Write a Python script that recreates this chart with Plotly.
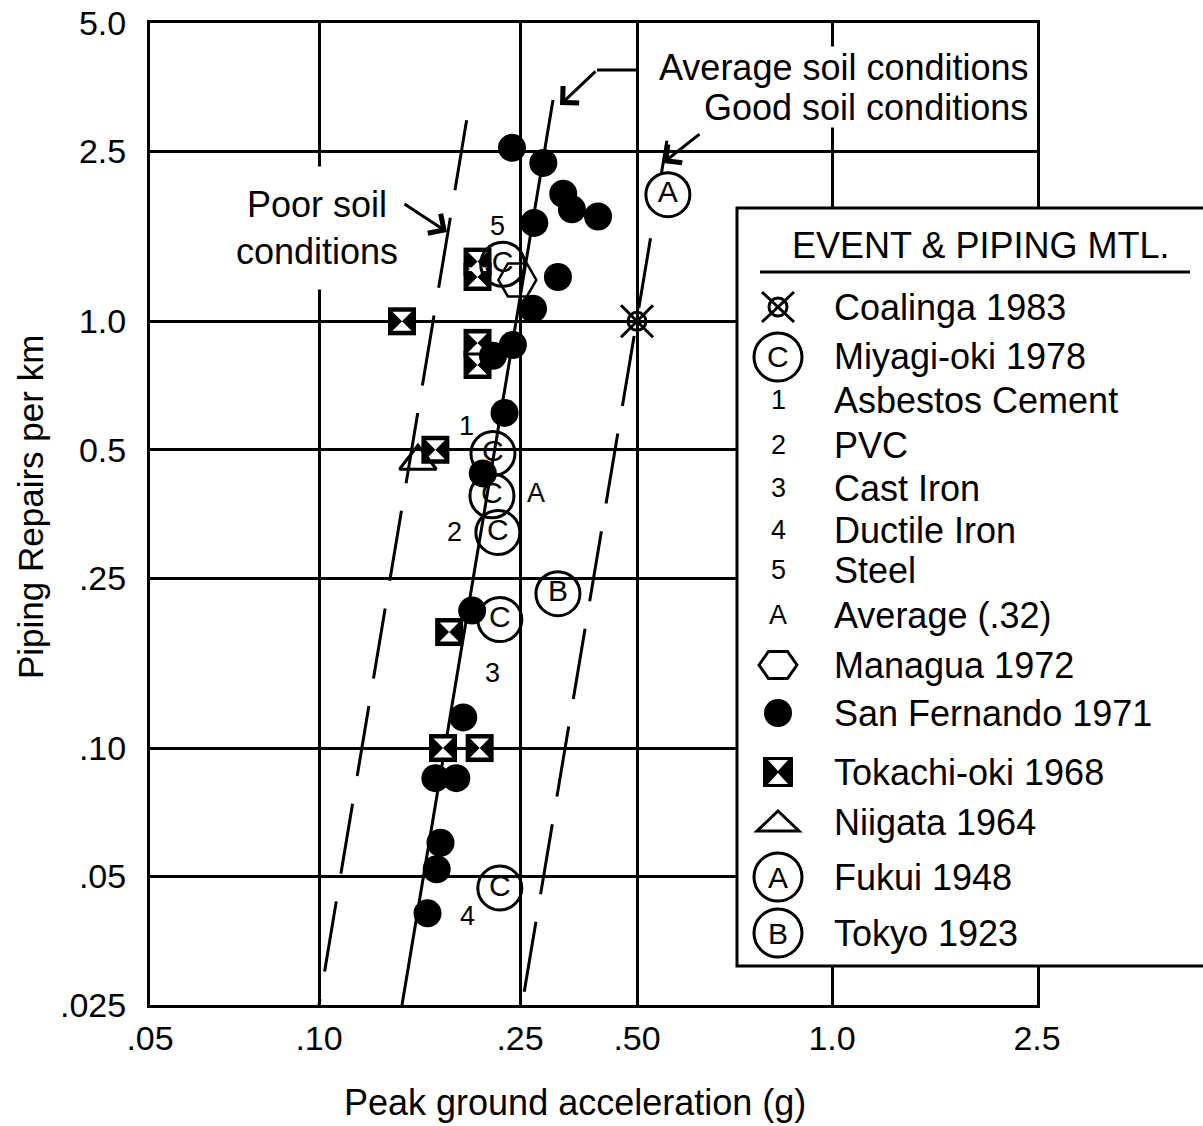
import numpy as np
import plotly.graph_objects as go

# ---------------- axis scales (as printed on the reference) ----------------
X_TICK_VALUES = [0.05, 0.10, 0.25, 0.50, 1.0, 2.5]
X_TICK_LABELS = [".05", ".10", ".25", ".50", "1.0", "2.5"]
# the printed PGA axis is not evenly logarithmic: spacing of its tick marks
X_AXIS_STOPS = [0, 169, 370, 487, 682, 887]
Y_TICK_VALUES = [5.0, 2.5, 1.0, 0.5, 0.25, 0.10, 0.05, 0.025]
Y_TICK_LABELS = ["5.0", "2.5", "1.0", "0.5", ".25", ".10", ".05", ".025"]

# ---------------- data (peak ground acceleration g, repairs per km) ----------------
SAN_FERNANDO_PGA = [0.241, 0.287, 0.323, 0.340, 0.397, 0.272, 0.313, 0.270, 0.242, 0.221,
                    0.233, 0.211, 0.201, 0.193, 0.170, 0.187, 0.174, 0.171, 0.164]
SAN_FERNANDO_RATE = [2.55, 2.35, 1.99, 1.83, 1.76, 1.70, 1.27, 1.07, 0.88, 0.83,
                     0.61, 0.44, 0.21, 0.118, 0.085, 0.085, 0.060, 0.052, 0.041]

MIYAGI_PGA = [0.231, 0.221, 0.220, 0.226, 0.228, 0.228]
MIYAGI_RATE = [1.36, 0.49, 0.39, 0.32, 0.20, 0.047]
MIYAGI_MTL = ["5", "1", "A", "2", "3", "4"]

TOKACHI_PGA = [0.206, 0.206, 0.146, 0.206, 0.206, 0.170, 0.181, 0.176, 0.208]
TOKACHI_RATE = [1.38, 1.27, 1.0, 0.89, 0.79, 0.50, 0.187, 0.10, 0.10]

MANAGUA_PGA = [0.247]
MANAGUA_RATE = [1.25]
NIIGATA_PGA = [0.157]
NIIGATA_RATE = [0.47]
FUKUI_PGA = [0.558]
FUKUI_RATE = [1.98]
TOKYO_PGA = [0.313]
TOKYO_RATE = [0.23]
COALINGA_PGA = [0.50]
COALINGA_RATE = [1.0]

POOR_PGA = [0.196, 0.100]
POOR_RATE = [2.96, 0.025]
AVERAGE_PGA = [0.304, 0.146]
AVERAGE_RATE = [3.30, 0.025]
GOOD_PGA = [0.556, 0.253]
GOOD_RATE = [2.65, 0.025]

LEGEND_TITLE = "EVENT & PIPING MTL."
LEGEND_LABELS = ["Coalinga 1983", "Miyagi-oki 1978", "Asbestos Cement", "PVC", "Cast Iron",
                 "Ductile Iron", "Steel", "Average (.32)", "Managua 1972", "San Fernando 1971",
                 "Tokachi-oki 1968", "Niigata 1964", "Fukui 1948", "Tokyo 1923"]
LEGEND_SYMBOLS = ["coalinga", "circ:C", "txt:1", "txt:2", "txt:3", "txt:4", "txt:5", "txt:A",
                  "hex", "dot", "tokachi", "tri", "circ:A", "circ:B"]

# ---------------- layout geometry (page pixels) ----------------
W, H = 1203, 1126
L, R, T, B = 150, 1037, 23, 1005
LEGEND_ROWS = [307, 357, 400, 445, 488, 530, 570, 615, 665, 713, 772, 822, 877, 933]
LABEL_SHIFTS = [(-5, 38), (-26, 28), (44, 3), (-43, 0), (-7, -53), (-32, -28)]
FONT = "Liberation Sans, Arial, Helvetica, sans-serif"
DASH = "71px,28px"


def xs(g):
    return np.interp(np.log10(np.asarray(g, dtype=float)), np.log10(X_TICK_VALUES), X_AXIS_STOPS)


def px(x):
    return (x - L) / (R - L)


def py(y):
    return (B - y) / (B - T)


def note(x, y, text, size=36, xanchor="center", yanchor="middle", **kw):
    d = dict(x=px(x), y=py(y), xref="paper", yref="paper", text=text, showarrow=False,
             xanchor=xanchor, yanchor=yanchor, font=dict(family=FONT, size=size, color="black"))
    d.update(kw)
    return d


fig = go.Figure()

# soil condition lines
fig.add_trace(go.Scatter(x=xs(POOR_PGA), y=POOR_RATE, mode="lines",
                         line=dict(color="black", width=3, dash=DASH)))
fig.add_trace(go.Scatter(x=xs(AVERAGE_PGA), y=AVERAGE_RATE, mode="lines",
                         line=dict(color="black", width=3)))
fig.add_trace(go.Scatter(x=xs(GOOD_PGA), y=GOOD_RATE, mode="lines",
                         line=dict(color="black", width=3, dash=DASH)))

# Tokachi-oki 1968: black square with white hourglass
fig.add_trace(go.Scatter(x=xs(TOKACHI_PGA), y=TOKACHI_RATE, mode="markers",
                         marker=dict(symbol="square", size=28, color="black", line=dict(width=0))))
fig.add_trace(go.Scatter(x=xs(TOKACHI_PGA), y=TOKACHI_RATE, mode="markers",
                         marker=dict(symbol="hourglass", size=19, color="white", line=dict(width=0))))

# San Fernando 1971
fig.add_trace(go.Scatter(x=xs(SAN_FERNANDO_PGA), y=SAN_FERNANDO_RATE, mode="markers",
                         marker=dict(symbol="circle", size=28, color="black", line=dict(width=0))))

# Niigata 1964
fig.add_trace(go.Scatter(x=xs(NIIGATA_PGA), y=NIIGATA_RATE, mode="markers",
                         marker=dict(symbol="triangle-up-open", size=32, color="black",
                                     line=dict(color="black", width=3))))

# Managua 1972
fig.add_trace(go.Scatter(x=xs(MANAGUA_PGA), y=MANAGUA_RATE, mode="markers",
                         marker=dict(symbol="hexagon2-open", size=38, color="black",
                                     line=dict(color="black", width=2.5))))

# Miyagi-oki 1978
fig.add_trace(go.Scatter(x=xs(MIYAGI_PGA), y=MIYAGI_RATE, mode="markers+text",
                         text=["C"] * len(MIYAGI_PGA), textposition="middle center",
                         textfont=dict(family=FONT, size=30, color="black"),
                         marker=dict(symbol="circle-open", size=44, color="black",
                                     line=dict(color="black", width=3))))

# Tokyo 1923
fig.add_trace(go.Scatter(x=xs(TOKYO_PGA), y=TOKYO_RATE, mode="markers+text",
                         text=["B"], textposition="middle center",
                         textfont=dict(family=FONT, size=30, color="black"),
                         marker=dict(symbol="circle-open", size=44, color="black",
                                     line=dict(color="black", width=3))))

# Fukui 1948
fig.add_trace(go.Scatter(x=xs(FUKUI_PGA), y=FUKUI_RATE, mode="markers+text",
                         text=["A"], textposition="middle center",
                         textfont=dict(family=FONT, size=30, color="black"),
                         marker=dict(symbol="circle", size=44, color="white",
                                     line=dict(color="black", width=3))))

# Coalinga 1983
fig.add_trace(go.Scatter(x=xs(COALINGA_PGA), y=COALINGA_RATE, mode="markers",
                         marker=dict(symbol="circle-open", size=18, color="black",
                                     line=dict(color="black", width=3))))
fig.add_trace(go.Scatter(x=xs(COALINGA_PGA), y=COALINGA_RATE, mode="markers",
                         marker=dict(symbol="x-thin-open", size=32, color="black",
                                     line=dict(color="black", width=3))))

annotations = []
shapes = []

# piping material labels beside the Miyagi-oki points
for g, r, lab, (dx, dy) in zip(MIYAGI_PGA, MIYAGI_RATE, MIYAGI_MTL, LABEL_SHIFTS):
    annotations.append(dict(x=float(xs(g)), y=float(np.log10(r)), xref="x", yref="y",
                            text=lab, showarrow=False, xshift=dx, yshift=dy,
                            xanchor="center", yanchor="middle",
                            font=dict(family=FONT, size=27, color="black")))

# soil-condition captions and arrows
annotations.append(note(317, 228, "Poor soil<br>conditions", align="center", bgcolor="white",
                        height=122, valign="middle", borderpad=0))
annotations.append(note(1030, 46, "Average soil conditions", xanchor="right", yanchor="top",
                        bgcolor="white", height=80, valign="top", borderpad=0))
annotations.append(note(1030, 107, "Good soil conditions", xanchor="right"))
arrow_style = dict(showarrow=True, arrowhead=4, arrowsize=1.5, arrowwidth=3, arrowcolor="black",
                   text="", xref="paper", yref="paper", axref="pixel", ayref="pixel", standoff=0)
annotations.append(dict(x=px(447), y=py(232), ax=-44, ay=-29, **arrow_style))
annotations.append(dict(x=px(560), y=py(105), ax=37, ay=-35, **arrow_style))
annotations.append(dict(x=px(663), y=py(163), ax=38, ay=-30, **arrow_style))
shapes.append(dict(type="line", xref="paper", yref="paper", x0=px(597), x1=px(637),
                   y0=py(70), y1=py(70), line=dict(color="black", width=3), layer="above"))

# axis titles
annotations.append(note(575, 1102, "Peak ground acceleration (g)"))
annotations.append(note(30, 507, "Piping Repairs per km", size=35, textangle=-90))

# ---------------- legend box ----------------
shapes.append(dict(type="rect", xref="paper", yref="paper", x0=px(737), x1=px(1300),
                   y0=py(966), y1=py(208), fillcolor="white",
                   line=dict(color="black", width=3), layer="above"))
annotations.append(note(980, 245, LEGEND_TITLE))
shapes.append(dict(type="line", xref="paper", yref="paper", x0=px(760), x1=px(1190),
                   y0=py(272), y1=py(272), line=dict(color="black", width=3), layer="above"))

SYM_X = 778
TEXT_X = 832


def pix_shape(kind, cy, **kw):
    d = dict(type=kind, xref="paper", yref="paper", xsizemode="pixel", ysizemode="pixel",
             xanchor=px(SYM_X), yanchor=py(cy), layer="above")
    d.update(kw)
    return d


for row, lab, sym in zip(LEGEND_ROWS, LEGEND_LABELS, LEGEND_SYMBOLS):
    annotations.append(note(TEXT_X, row, lab, xanchor="left"))
    thin = dict(color="black", width=3)
    if sym == "coalinga":
        shapes.append(pix_shape("circle", row, x0=-9, x1=9, y0=-9, y1=9, line=thin))
        shapes.append(pix_shape("line", row, x0=-16, x1=16, y0=-15, y1=15, line=thin))
        shapes.append(pix_shape("line", row, x0=-16, x1=16, y0=15, y1=-15, line=thin))
    elif sym.startswith("circ:"):
        shapes.append(pix_shape("circle", row, x0=-24, x1=24, y0=-24, y1=24, line=thin,
                                fillcolor="white"))
        annotations.append(note(SYM_X, row, sym[5:], size=30))
    elif sym.startswith("txt:"):
        annotations.append(note(SYM_X, row, sym[4:], size=27))
    elif sym == "hex":
        shapes.append(pix_shape("path", row,
                                path="M -19 0 L -9.5 13.5 L 9.5 13.5 L 19 0 L 9.5 -13.5 L -9.5 -13.5 Z",
                                line=thin))
    elif sym == "dot":
        shapes.append(pix_shape("circle", row, x0=-14, x1=14, y0=-14, y1=14,
                                fillcolor="black", line=dict(width=0)))
    elif sym == "tokachi":
        shapes.append(pix_shape("rect", row, x0=-15, x1=15, y0=-15, y1=15,
                                fillcolor="black", line=dict(width=0)))
        shapes.append(pix_shape("path", row,
                                path="M -10 12 L 10 12 L 0 1 Z M -10 -12 L 10 -12 L 0 -1 Z",
                                fillcolor="white", line=dict(width=0)))
    elif sym == "tri":
        shapes.append(pix_shape("path", row, path="M -21 -9 L 21 -9 L 0 11 Z", line=thin))

axis_common = dict(showgrid=True, gridcolor="black", gridwidth=3, showline=True,
                   linecolor="black", linewidth=3, mirror=True, zeroline=False, ticks="",
                   automargin=False, tickfont=dict(family=FONT, size=34, color="black"))

fig.update_layout(
    width=W, height=H,
    margin=dict(l=L, r=W - R, t=T, b=H - B, pad=0),
    paper_bgcolor="white", plot_bgcolor="white", showlegend=False,
    font=dict(family=FONT, color="black"),
    xaxis=dict(range=[0, X_AXIS_STOPS[-1]], tickmode="array",
               tickvals=[float(v) for v in xs(X_TICK_VALUES)], ticktext=X_TICK_LABELS,
               ticklabelstandoff=1, **axis_common),
    yaxis=dict(type="log", range=[np.log10(Y_TICK_VALUES[-1]), np.log10(Y_TICK_VALUES[0])],
               tickmode="array", tickvals=Y_TICK_VALUES, ticktext=Y_TICK_LABELS,
               ticklabelstandoff=14, **axis_common),
    annotations=annotations,
    shapes=shapes,
)

fig.write_html("out.html", config={"displayModeBar": False},
               post_script="document.body.style.margin='0';document.body.style.padding='0';")
